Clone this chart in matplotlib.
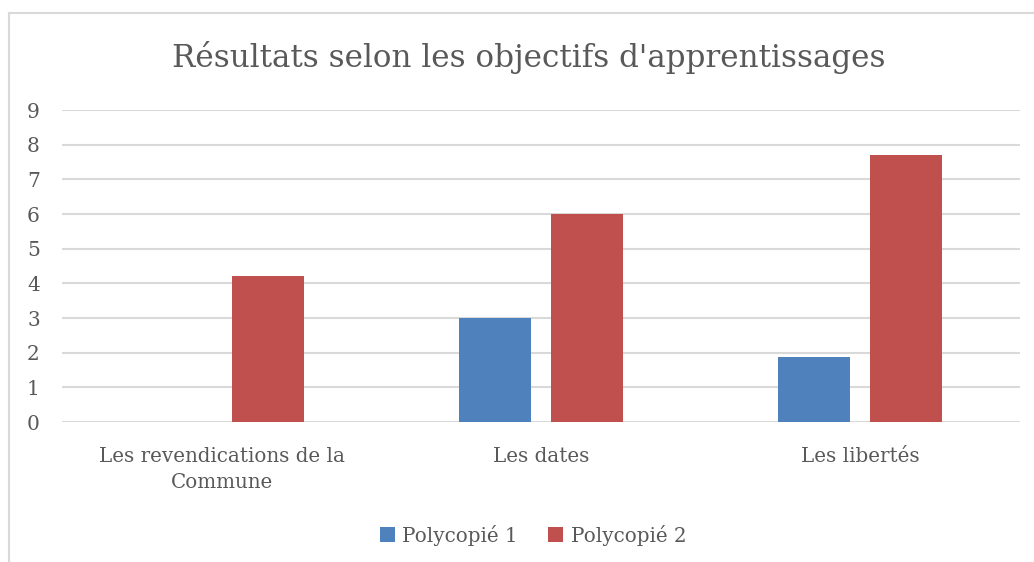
import matplotlib
matplotlib.use("Agg")
import matplotlib.pyplot as plt
from matplotlib.lines import Line2D
import numpy as np

W, H = 1034, 562

categories = ["Les revendications de la\nCommune", "Les dates", "Les libertés"]
poly1 = [0, 3, 1.87]
poly2 = [4.2, 6, 7.7]
series_names = ["Polycopié 1", "Polycopié 2"]
yticks = list(range(0, 10))

BLUE = "#4F81BD"
RED = "#C0504D"
TXT = "#595959"
GRID = "#D9D9D9"

plt.rcParams["font.family"] = ["DejaVu Serif"]

fig = plt.figure(figsize=(W / 100, H / 100), dpi=100)
ax = fig.add_axes([62 / W, 1 - 422 / H, (1020 - 62) / W, (422 - 110) / H])

x = np.arange(len(categories))
bw = 0.225
off = 0.144
ax.bar(x - off, poly1, bw, color=BLUE, label=series_names[0], zorder=3)
ax.bar(x + off, poly2, bw, color=RED, label=series_names[1], zorder=3)

ax.set_xlim(-0.5, len(categories) - 0.5)
ax.set_ylim(0, 9)
ax.set_yticks(yticks)
ax.yaxis.grid(True, color=GRID, lw=1.5, zorder=0)
ax.set_axisbelow(True)
for s in ax.spines.values():
    s.set_visible(False)
ax.tick_params(axis="both", length=0, colors=TXT)
ax.tick_params(axis="y", pad=16, labelsize=14.5)
ax.tick_params(axis="x", pad=18, labelsize=14.3)
ax.set_xticks(x)
ax.set_xticklabels(categories, linespacing=1.5)

fig.text(529 / W, 1 - 57 / H, "Résultats selon les objectifs d'apprentissages",
         ha="center", va="center", fontsize=22.3, color=TXT)

leg = fig.legend(loc="center", bbox_to_anchor=(533 / W, 1 - 535 / H), ncol=2,
                 frameon=False, fontsize=14.3, handlelength=0.75, handleheight=0.75,
                 handletextpad=0.4, columnspacing=1.5)
for t in leg.get_texts():
    t.set_color(TXT)

# chart border (left and top visible)
bc = "#D9D9D9"
fig.add_artist(Line2D([9 / W, 9 / W], [0, 1 - 13 / H], color=bc, lw=1.5))
fig.add_artist(Line2D([9 / W, 1], [1 - 13 / H, 1 - 13 / H], color=bc, lw=1.5))

fig.savefig("out.png", dpi=100)
